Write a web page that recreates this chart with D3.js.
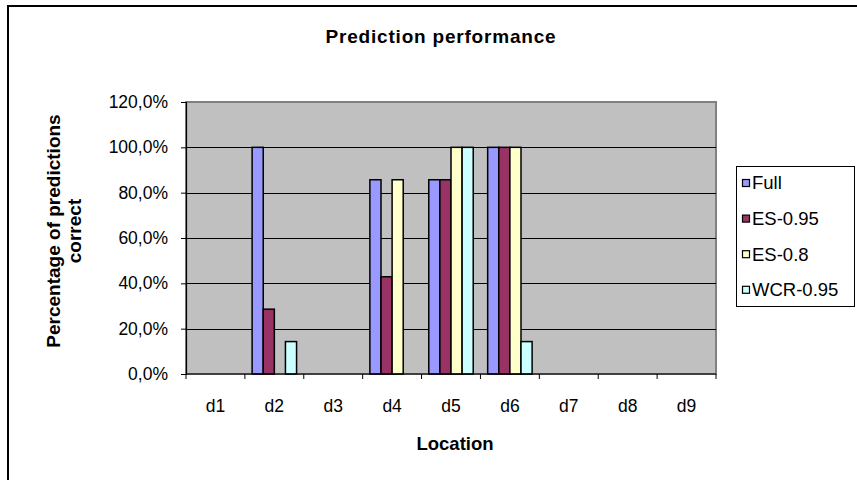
<!DOCTYPE html>
<html>
<head>
<meta charset="utf-8">
<script src="https://cdn.jsdelivr.net/npm/d3@7"></script>
<style>
  html, body { margin: 0; padding: 0; background: #fff; }
  svg { display: block; }
  text { font-family: "Liberation Sans", Arial, sans-serif; fill: #000; }
</style>
</head>
<body>
<svg id="chart" width="857" height="480"></svg>
<script>
const categories = ["d1", "d2", "d3", "d4", "d5", "d6", "d7", "d8", "d9"];
const seriesNames = ["Full", "ES-0.95", "ES-0.8", "WCR-0.95"];
const seriesColors = ["#9999FF", "#993366", "#FFFFCC", "#CCFFFF"];
const fullValues   = [0, 100, 0, 85.7, 85.7, 100, 0, 0, 0];
const es095Values  = [0, 28.6, 0, 42.9, 85.7, 100, 0, 0, 0];
const es08Values   = [0, 0, 0, 85.7, 100, 100, 0, 0, 0];
const wcr095Values = [0, 14.3, 0, 0, 100, 14.3, 0, 0, 0];
const yTicks = [0, 20, 40, 60, 80, 100, 120];
const titleText = "Prediction performance";
const xTitle = "Location";
const yTitleLines = ["Percentage of predictions", "correct"];

const seriesValues = [fullValues, es095Values, es08Values, wcr095Values];

const svg = d3.select("#chart");
const plot = { left: 186, right: 716, top: 102, bottom: 374 };

// outer frame
svg.append("rect").attr("x", 8).attr("y", 6).attr("width", 900).attr("height", 600)
  .attr("fill", "#fff").attr("stroke", "#000").attr("stroke-width", 2);

const x = d3.scaleBand().domain(categories).range([plot.left, plot.right]).padding(0);
const xs = d3.scaleBand().domain(seriesNames).range([0, x.bandwidth()]).paddingInner(0).paddingOuter(0.65);
const y = d3.scaleLinear().domain([0, 120]).range([plot.bottom, plot.top]);

// plot background
svg.append("rect").attr("x", plot.left).attr("y", plot.top)
  .attr("width", plot.right - plot.left).attr("height", plot.bottom - plot.top)
  .attr("fill", "#C0C0C0").attr("stroke", "#808080").attr("stroke-width", 2);

// gridlines
svg.append("g").selectAll("line").data(yTicks.filter(t => t > 0 && t < 120)).join("line")
  .attr("x1", plot.left).attr("x2", plot.right)
  .attr("y1", d => Math.round(y(d)) + 0.5).attr("y2", d => Math.round(y(d)) + 0.5)
  .attr("stroke", "#000").attr("stroke-width", 1);

// bars
const flat = [];
categories.forEach((c, i) => {
  seriesNames.forEach((s, j) => {
    flat.push({ c, s, v: seriesValues[j][i], color: seriesColors[j] });
  });
});
svg.append("g").selectAll("rect").data(flat.filter(d => d.v > 0)).join("rect")
  .attr("x", d => x(d.c) + xs(d.s))
  .attr("y", d => y(d.v))
  .attr("width", xs.bandwidth())
  .attr("height", d => y(0) - y(d.v))
  .attr("fill", d => d.color)
  .attr("stroke", "#000").attr("stroke-width", 1.5);

// y axis
const yAxis = d3.axisLeft(y).tickValues(yTicks).tickSize(5).tickPadding(13)
  .tickFormat(d => d.toFixed(1).replace(".", ",") + "%");
const gy = svg.append("g").attr("transform", `translate(${plot.left},0)`).call(yAxis);
gy.select(".domain").attr("stroke", "#000").attr("stroke-width", 1.2);
gy.selectAll(".tick line").attr("stroke", "#000");
gy.selectAll(".tick text").attr("font-size", 17.5).attr("font-family", "Liberation Sans, Arial, sans-serif");

// x axis
const xAxis = d3.axisBottom(x).tickSize(0).tickPadding(26);
const gx = svg.append("g").attr("transform", `translate(0,${plot.bottom})`).call(xAxis);
gx.select(".domain").remove();
gx.selectAll(".tick text").attr("font-size", 17.5).attr("font-family", "Liberation Sans, Arial, sans-serif");
const boundaries = categories.map(c => x(c)).concat([plot.right]);
svg.append("line").attr("x1", plot.left).attr("x2", plot.right)
  .attr("y1", plot.bottom).attr("y2", plot.bottom).attr("stroke", "#000").attr("stroke-width", 1.2);
svg.append("g").selectAll("line").data(boundaries).join("line")
  .attr("x1", d => d).attr("x2", d => d)
  .attr("y1", plot.bottom).attr("y2", plot.bottom + 5)
  .attr("stroke", "#000");

// titles
svg.append("text").attr("x", 441).attr("y", 43).attr("text-anchor", "middle")
  .attr("font-size", 19).attr("font-weight", "bold").attr("letter-spacing", 0.8).text(titleText);
svg.append("text").attr("x", (plot.left + plot.right) / 2 + 4).attr("y", 450).attr("text-anchor", "middle")
  .attr("font-size", 18.5).attr("font-weight", "bold").text(xTitle);
const yt = svg.append("text").attr("transform", `translate(60,231) rotate(-90)`)
  .attr("text-anchor", "middle").attr("font-size", 19).attr("font-weight", "bold");
yTitleLines.forEach((l, i) => {
  yt.append("tspan").attr("x", 0).attr("dy", i === 0 ? 0 : 21).text(l);
});

// legend
const lg = svg.append("g");
lg.append("rect").attr("x", 736.5).attr("y", 166.5).attr("width", 118).attr("height", 140)
  .attr("fill", "#fff").attr("stroke", "#000").attr("stroke-width", 1);
const li = lg.selectAll("g.item").data(seriesNames).join("g").attr("class", "item")
  .attr("transform", (d, i) => `translate(0,${183 + i * 35.6})`);
li.append("rect").attr("x", 742.5).attr("y", -3.5).attr("width", 7).attr("height", 7)
  .attr("fill", (d, i) => seriesColors[i]).attr("stroke", "#000").attr("stroke-width", 1.2);
li.append("text").attr("x", 752).attr("y", 0).attr("dy", "0.35em")
  .attr("font-size", 18.5).text(d => d);
</script>
</body>
</html>
